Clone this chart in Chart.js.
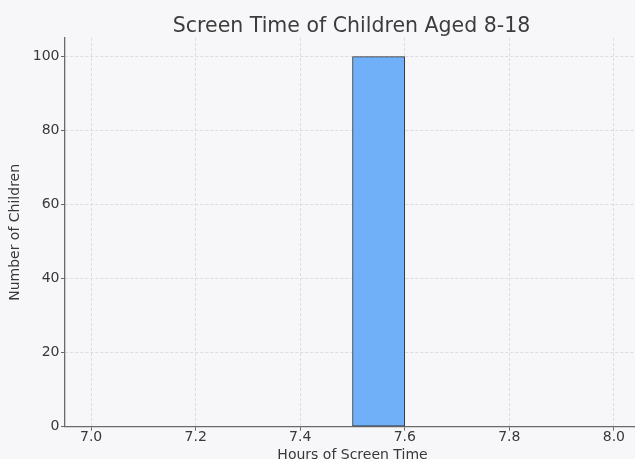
<!DOCTYPE html>
<html lang="en">
<head>
  <meta charset="UTF-8">
  <title>Screen Time of Children Aged 8-18</title>
  <script src="https://cdn.jsdelivr.net/npm/chart.js"></script>
  <style>
    html, body {
      margin: 0;
      padding: 0;
      background: #f7f7f9;
      overflow: hidden;
    }
    /* the figure is wider/taller than the window, as in the original crop */
    .container {
      width: 703px;
      height: 470px;
    }
  </style>
</head>
<body>
  <div class="container">
    <canvas id="myChart" width="703" height="470"></canvas>
  </div>

  <script>
    // histogram bins (hours) and counts
    const binEdges = [7.0, 7.1, 7.2, 7.3, 7.4, 7.5, 7.6, 7.7, 7.8, 7.9, 8.0];
    const counts = [0, 0, 0, 0, 0, 100, 0, 0, 0, 0];

    // tick labels
    const xTicks = [7.0, 7.2, 7.4, 7.6, 7.8, 8.0];
    const yTicks = [0, 20, 40, 60, 80, 100];

    // one bar per bin, centred on the bin
    const bars = counts.map((c, i) => ({
      x: (binEdges[i] + binEdges[i + 1]) / 2,
      y: c
    }));

    Chart.defaults.font.family = "'DejaVu Sans', sans-serif";
    Chart.defaults.color = '#383838';

    const gridColor = '#dcdcdf';
    const spineColor = '#6a6a6a';

    const ctx = document.getElementById('myChart').getContext('2d');
    const myChart = new Chart(ctx, {
      type: 'bar',
      data: {
        datasets: [{
          label: 'Number of Children',
          data: bars,
          backgroundColor: '#6fb0f8',
          borderColor: '#333',
          borderWidth: 1,
          borderSkipped: false,
          barPercentage: 1.0,
          categoryPercentage: 1.0
        }]
      },
      options: {
        responsive: false,
        animation: false,
        devicePixelRatio: 1,
        layout: {
          padding: 0
        },
        plugins: {
          legend: { display: false },
          tooltip: { enabled: false },
          title: {
            display: true,
            text: 'Screen Time of Children Aged 8-18',
            color: '#3c3c3c',
            font: { size: 20.5, weight: 'normal', lineHeight: 1.1 },
            padding: { top: 15, bottom: 0.5 }
          }
        },
        scales: {
          x: {
            type: 'linear',
            offset: false,
            min: 6.95,
            max: 8.05,
            afterBuildTicks: (scale) => {
              scale.ticks = xTicks.map(v => ({ value: v }));
            },
            afterFit: (scale) => {
              scale.height = 43.3;
            },
            ticks: {
              font: { size: 14 },
              padding: -2,
              maxRotation: 0,
              autoSkip: false,
              callback: (v) => Number(v).toFixed(1)
            },
            grid: {
              offset: false,
              color: gridColor,
              tickLength: 4,
              tickColor: spineColor,
              tickBorderDash: []
            },
            border: {
              display: true,
              color: spineColor,
              width: 1.3,
              dash: [3, 2]
            },
            title: {
              display: true,
              text: 'Hours of Screen Time',
              font: { size: 14 },
              padding: { top: 0, bottom: 6.6 }
            }
          },
          y: {
            min: 0,
            max: 105,
            afterBuildTicks: (scale) => {
              scale.ticks = yTicks.map(v => ({ value: v }));
            },
            afterFit: (scale) => {
              scale.width = 65;
            },
            ticks: {
              font: { size: 14 },
              padding: 1.5
            },
            grid: {
              color: gridColor,
              tickLength: 4,
              tickColor: spineColor,
              tickBorderDash: []
            },
            border: {
              display: true,
              color: spineColor,
              width: 1.3,
              dash: [3, 2]
            },
            title: {
              display: true,
              text: 'Number of Children',
              font: { size: 14 },
              padding: { top: 6.6, bottom: 0 }
            }
          },
          // empty space on the right so the title centres over the plot
          pad: {
            type: 'linear',
            position: 'right',
            display: true,
            ticks: { display: false },
            grid: { display: false },
            border: { display: false },
            afterFit: (scale) => {
              scale.width = 63;
            }
          }
        }
      }
    });
  </script>
</body>
</html>
